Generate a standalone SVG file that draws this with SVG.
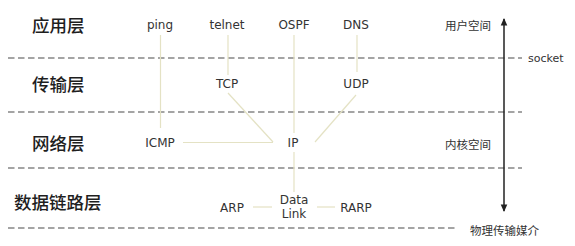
<svg xmlns="http://www.w3.org/2000/svg" width="575" height="246" viewBox="0 0 575 246">
  <defs>
    <marker id="tip" viewBox="0 0 8 8" refX="7" refY="4" markerWidth="5" markerHeight="5" orient="auto-start-reverse">
      <path d="M0,0.5 L8,4 L0,7.5 Z" fill="#222"/>
    </marker>
  </defs>
  <style>
    .layer { font-family: "Noto Sans CJK SC", "Noto Sans", sans-serif; font-size: 17.5px; font-weight: 500; fill: #1e1e1e; }
    .proto { font-family: "DejaVu Sans", "Liberation Sans", sans-serif; font-size: 12px; fill: #333; text-anchor: middle; }
    .side { font-family: "Noto Sans CJK SC", "Noto Sans", sans-serif; font-size: 11.5px; fill: #333; }
    .sock { font-family: "DejaVu Sans", "Liberation Sans", sans-serif; font-size: 11px; fill: #333; }
    .sep { stroke: #4a4a4a; stroke-width: 1.2; stroke-dasharray: 6.5 3.5; fill: none; }
    .link { stroke: #e4e2c4; stroke-width: 1.2; fill: none; }
  </style>

  <rect width="575" height="246" fill="#ffffff"/>

  <!-- layer separators -->
  <g id="separators">
    <line class="sep" x1="8" y1="58" x2="522" y2="58"/>
    <line class="sep" x1="8" y1="112" x2="522" y2="112"/>
    <line class="sep" x1="8" y1="168" x2="522" y2="168"/>
    <line class="sep" x1="8" y1="228" x2="457" y2="228"/>
  </g>

  <!-- layer names -->
  <g id="layer-app"><text class="layer" x="32" y="32">应用层</text></g>
  <g id="layer-transport"><text class="layer" x="32" y="91">传输层</text></g>
  <g id="layer-network"><text class="layer" x="32" y="150">网络层</text></g>
  <g id="layer-datalink"><text class="layer" x="14" y="209">数据链路层</text></g>

  <!-- connectors -->
  <g id="connectors">
    <line class="link" x1="160.5" y1="35" x2="160.5" y2="128"/>
    <line class="link" x1="228" y1="35" x2="228" y2="75"/>
    <line class="link" x1="294" y1="35" x2="294" y2="133"/>
    <line class="link" x1="357" y1="35" x2="357" y2="72"/>
    <line class="link" x1="228" y1="93" x2="273" y2="142"/>
    <line class="link" x1="183" y1="142.5" x2="273" y2="142.5"/>
    <line class="link" x1="356" y1="95" x2="315" y2="142"/>
    <line class="link" x1="294" y1="152" x2="294" y2="192"/>
    <line class="link" x1="253" y1="207" x2="272" y2="207"/>
    <line class="link" x1="317" y1="207" x2="335" y2="207"/>
  </g>

  <!-- protocol nodes -->
  <g id="node-ping"><text class="proto" x="160" y="29">ping</text></g>
  <g id="node-telnet"><text class="proto" x="227" y="29">telnet</text></g>
  <g id="node-ospf"><text class="proto" x="294" y="29">OSPF</text></g>
  <g id="node-dns"><text class="proto" x="356" y="29">DNS</text></g>
  <g id="node-tcp"><text class="proto" x="227" y="88">TCP</text></g>
  <g id="node-udp"><text class="proto" x="356" y="88">UDP</text></g>
  <g id="node-icmp"><text class="proto" x="160" y="147">ICMP</text></g>
  <g id="node-ip"><text class="proto" x="293" y="147">IP</text></g>
  <g id="node-arp"><text class="proto" x="232" y="212">ARP</text></g>
  <g id="node-datalink"><text class="proto" x="294" y="204">Data</text><text class="proto" x="294" y="218">Link</text></g>
  <g id="node-rarp"><text class="proto" x="356" y="212">RARP</text></g>

  <!-- user / kernel space axis -->
  <g id="space-axis">
    <line x1="504" y1="19" x2="504" y2="211" stroke="#222" stroke-width="1.5" marker-start="url(#tip)" marker-end="url(#tip)"/>
  </g>
  <g id="label-user"><text class="side" x="445" y="30">用户空间</text></g>
  <g id="label-socket"><text class="sock" x="528" y="62">socket</text></g>
  <g id="label-kernel"><text class="side" x="445" y="149">内核空间</text></g>
  <g id="label-medium"><text class="side" x="470" y="235">物理传输媒介</text></g>
</svg>
